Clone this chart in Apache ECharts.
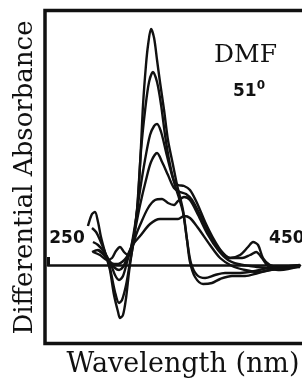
<!DOCTYPE html>
<html>
<head>
<meta charset="utf-8">
<script src="https://cdn.jsdelivr.net/npm/echarts@6/dist/echarts.min.js"></script>
<style>
    html, body { margin: 0; padding: 0; background: #fff; }
    #chart { width: 302px; height: 382px; }
</style>
</head>
<body>
<div id="chart"></div>
<script>
    // 波长 (nm) / 差示吸光度 (任意单位)
    var nmA = [282.5, 285.8, 288.2, 290.7, 293.1, 297.2, 300.4, 303.7, 307.0, 308.6, 311.0, 313.5, 315.9, 318.4, 320.8, 323.2, 325.7, 327.3, 329.7, 331.4, 333.8, 336.3, 338.7, 341.1, 344.4, 347.6, 351.7, 355.0, 359.8, 363.1, 365.5, 369.6, 376.1, 383.4, 390.0, 399.7, 410.3, 420.9, 430.6, 442.8, 455];
    var absA = [39, 51, 53, 43, 28, 9, -5, -30, -47, -53, -50, -33, -7, 15, 37, 65, 120, 160, 200, 220, 236, 227, 205, 183, 155, 125, 100, 80, 55, 25, 3, -12, -19, -18, -14, -11, -11, -8, -5, -3, -2];

    var nmB = [285.8, 289.1, 292.3, 297.2, 300.4, 304.5, 307.8, 310.2, 313.5, 316.7, 319.2, 322.4, 325.7, 329.0, 332.2, 335.4, 338.7, 342.0, 345.2, 348.5, 352.5, 355.8, 359.8, 363.1, 366.3, 371.2, 377.8, 385.9, 394.0, 406.2, 418.4, 429.0, 442.8, 455];
    var absB = [37, 33, 25, 10, -3, -27, -38, -35, -20, 3, 20, 55, 115, 155, 183, 193, 183, 160, 130, 105, 83, 70, 53, 25, 2, -10, -13, -10, -8, -8, -6, -3, -2, -1];

    var nmC = [286.6, 290.7, 295.6, 300.4, 304.5, 307.8, 311.0, 314.3, 317.5, 320.8, 324.9, 328.9, 333.0, 336.3, 338.7, 342.0, 346.0, 349.3, 352.5, 355.8, 360.7, 365.5, 371.2, 377.8, 384.3, 391.6, 398.1, 406.2, 412.7, 416.8, 420.9, 424.9, 430.6, 438.8, 446.9, 455];
    var absC = [23, 20, 13, 3, -10, -15, -11, 3, 17, 40, 75, 105, 130, 139, 141, 133, 113, 97, 84, 80, 79, 75, 62, 43, 27, 13, 7, 10, 18, 23, 20, 7, 0, -2, -1, 0];

    var nmD = [285.8, 290.7, 295.6, 300.4, 304.5, 307.8, 311.0, 314.3, 317.5, 320.8, 324.9, 329.7, 333.8, 338.7, 342.8, 347.6, 352.5, 357.4, 362.3, 367.2, 373.7, 381.8, 390.0, 398.1, 407.9, 414.4, 419.3, 424.1, 429.0, 438.8, 455];
    var absD = [13, 15, 10, 3, -3, -5, -2, 7, 17, 35, 60, 85, 103, 112, 103, 90, 77, 73, 71, 65, 50, 30, 15, 7, 7, 10, 13, 7, -1, -3, -1];

    var nmE = [286.6, 292.3, 298.0, 302.1, 305.3, 308.6, 311.8, 315.1, 318.4, 321.6, 324.9, 331.4, 337.1, 342.8, 347.6, 352.5, 355.8, 360.7, 365.5, 372.1, 380.2, 388.3, 396.5, 404.6, 414.4, 426.6, 438.8, 455];
    var absE = [13, 10, 5, 7, 14, 18, 13, 10, 17, 30, 40, 57, 65, 66, 62, 60, 64, 68, 65, 50, 30, 15, 5, 1, -1, -3, -5, -1];

    var nmF = [290.7, 295.6, 300.4, 303.7, 307.0, 310.2, 313.5, 316.7, 320.0, 324.9, 333.0, 341.1, 349.3, 355.8, 360.7, 365.5, 372.1, 381.8, 390.0, 399.7, 410.3, 420.9, 430.6, 442.8, 455];
    var absF = [15, 10, 3, 1, 1, 3, 7, 15, 22, 29, 41, 46, 46, 46, 49, 47, 37, 20, 7, -1, -5, -7, -5, -3, -1];

    var tickNm = [250, 450];

    var serif = '"DejaVu Serif", "Liberation Serif", serif';
    var sans = '"DejaVu Sans", "Liberation Sans", sans-serif';

    function pairs(xs, ys) {
        var out = [];
        for (var i = 0; i < xs.length; i++) {
            out.push([xs[i], ys[i]]);
        }
        return out;
    }

    function curve(xs, ys) {
        return {
            type: 'line',
            data: pairs(xs, ys),
            smooth: 0.3,
            showSymbol: false,
            silent: true,
            lineStyle: { color: '#111', width: 2.4 }
        };
    }

    var chart = echarts.init(document.getElementById('chart'));
    var option = {
        animation: false,
        grid: { left: 48, right: 2, top: 10, bottom: 37, outerBoundsMode: 'none', containLabel: false },
        xAxis: {
            type: 'value',
            min: 250,
            max: 455,
            name: 'Wavelength (nm)',
            nameLocation: 'middle',
            nameGap: 6,
            nameTextStyle: { fontFamily: serif, fontSize: 27, color: '#111', padding: [0, 0, 0, 18] },
            axisLine: { onZero: true, lineStyle: { color: '#111', width: 2.5 } },
            axisTick: { show: true, inside: true, length: 8, customValues: [250], lineStyle: { color: '#111', width: 3 } },
            axisLabel: {
                inside: true,
                margin: 98,
                customValues: tickNm,
                fontFamily: sans,
                fontWeight: 'bold',
                fontSize: 17,
                color: '#111',
                formatter: function (v) {
                    return v == 250 ? '{l|' + v + '}' : '{r|' + v + '}';
                },
                rich: {
                    l: { fontFamily: sans, fontWeight: 'bold', fontSize: 17, color: '#111', padding: [0, 0, 0, 38] },
                    r: { fontFamily: sans, fontWeight: 'bold', fontSize: 17, color: '#111', padding: [0, 14, 0, 0] }
                }
            },
            splitLine: { show: false }
        },
        yAxis: {
            type: 'value',
            min: -80,
            max: 255,
            name: 'Differential Absorbance',
            nameLocation: 'middle',
            nameGap: 10,
            nameTextStyle: { fontFamily: serif, fontSize: 26, color: '#111' },
            axisLine: { show: false },
            axisTick: { show: false },
            axisLabel: { show: false },
            splitLine: { show: false }
        },
        graphic: [
            {
                type: 'rect',
                shape: { x: 45, y: 10.5, width: 300, height: 333 },
                style: { fill: 'none', stroke: '#111', lineWidth: 3.5 },
                silent: true
            },
            {
                type: 'text',
                left: 214,
                top: 43,
                style: { text: 'DMF', font: '25px ' + serif, fill: '#111' }
            },
            {
                type: 'text',
                left: 233,
                top: 80,
                style: {
                    text: '{a|51}{b|0}',
                    rich: {
                        a: { fontFamily: sans, fontWeight: 'bold', fontSize: 17, fill: '#111', verticalAlign: 'bottom' },
                        b: { fontFamily: sans, fontWeight: 'bold', fontSize: 12, fill: '#111', verticalAlign: 'top', padding: [0, 0, 8, 0] }
                    }
                }
            }
        ],
        series: [
            curve(nmA, absA),
            curve(nmB, absB),
            curve(nmC, absC),
            curve(nmD, absD),
            curve(nmE, absE),
            curve(nmF, absF)
        ]
    };
    chart.setOption(option);
</script>
</body>
</html>
